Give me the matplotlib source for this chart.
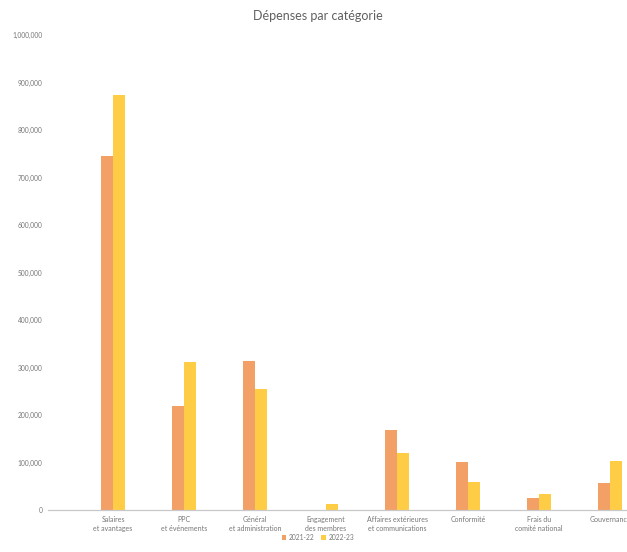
import matplotlib.pyplot as plt
import numpy as np

categories = ['Salaires\net avantages', 'PPC\net événements', 'Général\net administration',
              'Engagement\ndes membres', 'Affaires extérieures\net communications', 'Conformité',
              'Frais du\ncomité national', 'Gouvernance']
values_2122 = [745000, 219000, 313000, 0, 168000, 102000, 26000, 56000]
values_2223 = [874000, 312000, 255000, 12000, 121000, 60000, 33000, 104000]
series_names = ['2021-22', '2022-23']

orange = '#F2A066'
yellow = '#FFCD45'
grey = '#777777'

plt.rcParams['font.family'] = ['Lato', 'DejaVu Sans']

fig = plt.figure(figsize=(6.27, 5.52), dpi=100)
W, H = 627, 552
# plot area runs off the right edge like the cropped original
ax = fig.add_axes([48 / W, 42 / H, 597.5 / W, 475 / H])

x = np.arange(len(categories))
bw = 0.17
ax.bar(x - bw / 2, values_2122, bw, color=orange, label=series_names[0])
ax.bar(x + bw / 2, values_2223, bw, color=yellow, label=series_names[1])

ax.set_xlim(-0.9155, 7.5)
ax.set_ylim(0, 1000000)
ax.set_yticks(np.arange(0, 1000001, 100000))
ax.yaxis.set_major_formatter(plt.FuncFormatter(lambda v, p: f'{int(v):,}'))
ax.set_xticks(x)
ax.set_xticklabels(categories, fontsize=5, color=grey, linespacing=1.4)
ax.tick_params(axis='y', length=0, labelsize=4.8, labelcolor=grey, pad=4)
ax.tick_params(axis='x', length=0, pad=4)

for s in ['top', 'right', 'left']:
    ax.spines[s].set_visible(False)
ax.spines['bottom'].set_color('#C8C8C8')
ax.spines['bottom'].set_linewidth(0.9)

fig.text(318 / W, 1 - 16 / H, 'Dépenses par catégorie', ha='center', va='center',
         fontsize=9, color='#606060')

fig.legend(loc='center', bbox_to_anchor=(318 / W, 1 - 537 / H), ncol=2, frameon=False,
           fontsize=4.8, labelcolor=grey, handlelength=0.7, handleheight=0.7,
           handletextpad=0.4, columnspacing=1.0)

fig.savefig('out.png', dpi=100)
